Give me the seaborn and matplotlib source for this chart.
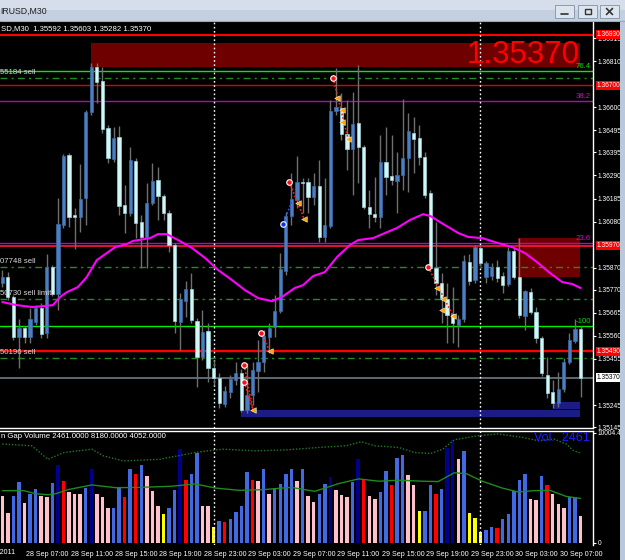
import matplotlib
matplotlib.use("Agg")
import matplotlib.pyplot as plt
import matplotlib.transforms as mtransforms
from matplotlib.patches import Rectangle
import numpy as np
import pandas as pd
import seaborn as sns

W, H = 625, 560

# EURUSD M30 candles, 28 Sep 05:00 -> 30 Sep 09:00 (index = bar number)
opens = [1.35800, 1.35828, 1.35737, 1.35555, 1.35596, 1.35555, 1.35623, 1.35687, 1.35573, 1.35873,
         1.35750, 1.36064, 1.36383, 1.36110, 1.36101, 1.36187, 1.36578, 1.36783, 1.36719, 1.36506,
         1.36365, 1.36465, 1.36155, 1.36119, 1.36355, 1.36078, 1.36010, 1.36164, 1.36269, 1.36196,
         1.36119, 1.35973, 1.35623, 1.35718, 1.35773, 1.35627, 1.35464, 1.35582, 1.35414, 1.35368,
         1.35250, 1.35304, 1.35359, 1.35391, 1.35222, 1.35291, 1.35400, 1.35441, 1.35555, 1.35600,
         1.35673, 1.35855, 1.36105, 1.36178, 1.36260, 1.36260, 1.36192, 1.36242, 1.36010, 1.36060,
         1.36583, 1.36597, 1.36478, 1.36410, 1.36528, 1.36419, 1.36146, 1.36114, 1.36101, 1.36351,
         1.36287, 1.36264, 1.36292, 1.36369, 1.36483, 1.36460, 1.36374, 1.36210, 1.35869, 1.35800,
         1.35728, 1.35659, 1.35609, 1.35637, 1.35896, 1.35814, 1.35960, 1.35828, 1.35832, 1.35873,
         1.35832, 1.35796, 1.35946, 1.35828, 1.35650, 1.35759, 1.35668, 1.35550, 1.35382, 1.35304,
         1.35254, 1.35318, 1.35441, 1.35536, 1.35592]
highs = [1.35860, 1.35850, 1.35746, 1.35637, 1.35605, 1.35687, 1.35700, 1.35709, 1.35932, 1.35882,
         1.36187, 1.36387, 1.36390, 1.36142, 1.36342, 1.36588, 1.36801, 1.36801, 1.36783, 1.36519,
         1.36510, 1.36515, 1.36246, 1.36419, 1.36369, 1.36110, 1.36255, 1.36346, 1.36328, 1.36205,
         1.36133, 1.35982, 1.35755, 1.35809, 1.35846, 1.35641, 1.35678, 1.35618, 1.35450, 1.35391,
         1.35332, 1.35382, 1.35441, 1.35409, 1.35436, 1.35441, 1.35541, 1.35587, 1.35618, 1.35746,
         1.35937, 1.36123, 1.36301, 1.36378, 1.36278, 1.36278, 1.36301, 1.36360, 1.36278, 1.36633,
         1.36779, 1.36665, 1.36633, 1.36669, 1.36792, 1.36428, 1.36224, 1.36283, 1.36474, 1.36510,
         1.36474, 1.36396, 1.36638, 1.36574, 1.36556, 1.36519, 1.36396, 1.36224, 1.36078, 1.35846,
         1.35800, 1.35782, 1.35655, 1.35928, 1.35932, 1.35973, 1.35969, 1.35900, 1.35891, 1.35905,
         1.35850, 1.35964, 1.35964, 1.36005, 1.35769, 1.35778, 1.35691, 1.35559, 1.35464, 1.35359,
         1.35395, 1.35459, 1.35573, 1.35637, 1.35603]
lows = [1.35782, 1.35723, 1.35541, 1.35414, 1.35527, 1.35527, 1.35609, 1.35550, 1.35550, 1.35741,
        1.35678, 1.36051, 1.36055, 1.35955, 1.36032, 1.36064, 1.36565, 1.36619, 1.36483, 1.36346,
        1.36351, 1.36110, 1.36028, 1.36105, 1.36005, 1.35869, 1.35869, 1.36155, 1.36087, 1.36087,
        1.35941, 1.35573, 1.35496, 1.35646, 1.35618, 1.35327, 1.35450, 1.35350, 1.35336, 1.35232,
        1.35236, 1.35277, 1.35336, 1.35213, 1.35209, 1.35245, 1.35304, 1.35395, 1.35482, 1.35555,
        1.35664, 1.35837, 1.36064, 1.36142, 1.36119, 1.36119, 1.36155, 1.35987, 1.35987, 1.36051,
        1.36565, 1.36451, 1.36315, 1.36201, 1.36255, 1.36137, 1.36051, 1.36078, 1.36051, 1.36201,
        1.36246, 1.36119, 1.36224, 1.36214, 1.36301, 1.36337, 1.36187, 1.35860, 1.35746, 1.35618,
        1.35527, 1.35527, 1.35509, 1.35623, 1.35791, 1.35800, 1.35878, 1.35800, 1.35814, 1.35805,
        1.35755, 1.35787, 1.35819, 1.35641, 1.35587, 1.35659, 1.35527, 1.35377, 1.35277, 1.35232,
        1.35236, 1.35304, 1.35432, 1.35527, 1.35282]
closes = [1.35828, 1.35737, 1.35555, 1.35596, 1.35555, 1.35637, 1.35687, 1.35568, 1.35873, 1.35750,
          1.36069, 1.36378, 1.36101, 1.36101, 1.36183, 1.36578, 1.36783, 1.36715, 1.36501, 1.36369,
          1.36460, 1.36151, 1.36119, 1.36360, 1.36073, 1.36010, 1.36164, 1.36264, 1.36196, 1.36119,
          1.35973, 1.35627, 1.35728, 1.35773, 1.35632, 1.35464, 1.35577, 1.35414, 1.35368, 1.35254,
          1.35309, 1.35364, 1.35391, 1.35222, 1.35291, 1.35405, 1.35441, 1.35559, 1.35596, 1.35673,
          1.35864, 1.36105, 1.36183, 1.36260, 1.36255, 1.36192, 1.36242, 1.36010, 1.36064, 1.36583,
          1.36601, 1.36478, 1.36410, 1.36524, 1.36419, 1.36146, 1.36114, 1.36101, 1.36351, 1.36283,
          1.36269, 1.36292, 1.36369, 1.36492, 1.36456, 1.36374, 1.36201, 1.35869, 1.35800, 1.35732,
          1.35655, 1.35618, 1.35637, 1.35900, 1.35809, 1.35964, 1.35891, 1.35891, 1.35873, 1.35823,
          1.35791, 1.35946, 1.35828, 1.35655, 1.35764, 1.35668, 1.35550, 1.35391, 1.35300, 1.35254,
          1.35318, 1.35441, 1.35541, 1.35591, 1.35370]

volumes = [4300, 2760, 4240, 5590, 3680, 4480, 4940, 4240, 4180, 5460,
           7090, 5680, 4640, 4480, 4420, 5030, 6750, 4480, 4180, 3190,
           3190, 5030, 4180, 6690, 6320, 7060, 6080, 4700, 3380, 2640,
           3160, 4790, 8530, 5770, 6320, 8170, 3380, 3380, 1410, 2030,
           1870, 2150, 2860, 3380, 6480, 5770, 5650, 6690, 4420, 5030,
           5400, 6290, 6690, 5650, 6690, 4300, 3750, 4420, 5400, 5960,
           4850, 4360, 4180, 5530, 7680, 5830, 4300, 4020, 4640, 6510,
           5250, 7740, 7980, 6140, 5310, 2920, 2950, 5250, 4480, 4940,
           8600, 9390, 7610, 8380, 2700, 2300, 980, 1170, 1470, 1350,
           2150, 2640, 4730, 5770, 6290, 4020, 3930, 6080, 5250, 4480,
           3530, 3190, 4140, 4180, 2461]
# p pink, b blue, n navy, r red, y yellow
vol_kind = list("ppbbpbbppb" "nrpppbnppp" "bbrbrbpppy" "bbnrbbppyb" "rbbbbrpbpb"
                "bbbpbppbbn" "pppbnrppbb" "rbbppybbrb" "nnpbyyybbr" "bbbbbppbrp" "ppbbp")

# moving average on price (bar, price)
ma_k = [0, 2.6, 5.5, 9.1, 10.4, 11.6, 13.6, 15.2, 17.0, 18.8, 20.3, 22.4, 23.5, 26.6, 28.0,
        29.6, 31.6, 34.1, 36.5, 38.8, 41.3, 43.6, 46.0, 48.5, 50.3, 52.6, 54.1, 55.9, 58.0, 60.2,
        62.5, 64.0, 66.7, 69.2, 71.0, 73.3, 75.7, 77.0, 78.7, 82.0, 83.8, 86.3, 89.2, 91.7, 94.0,
        96.4, 98.5, 100.7, 102.5, 104.0]
ma_price = [1.35714, 1.35700, 1.35691, 1.35700, 1.35737, 1.35759, 1.35782, 1.35828, 1.35905, 1.35937,
            1.35964, 1.35978, 1.35992, 1.36005, 1.36023, 1.36023, 1.35996, 1.35960, 1.35914, 1.35860,
            1.35814, 1.35769, 1.35732, 1.35718, 1.35737, 1.35778, 1.35791, 1.35832, 1.35850, 1.35919,
            1.35973, 1.35996, 1.36005, 1.36032, 1.36051, 1.36087, 1.36114, 1.36105, 1.36078, 1.36028,
            1.36010, 1.36005, 1.35982, 1.35964, 1.35937, 1.35891, 1.35846, 1.35805, 1.35796, 1.35778]

# volume indicator lines
band_k = [0, 5.3, 8.2, 11.1, 16.1, 18.2, 21.8, 28.3, 34.7, 36.9, 39.7, 45.5, 51.2, 56.9, 61.9,
          64.5, 67.0, 71.3, 74.1, 77.0, 79.2, 81.3, 85.6, 89.2, 93.5, 96.4, 99.2, 101.4, 102.8, 104.0]
band_vol = [9000, 8840, 7610, 8230, 8530, 7920, 7460, 7610, 8230, 8380, 8530, 8380, 8470, 8690, 8840,
            9210, 8840, 8690, 8230, 8140, 8530, 9390, 9760, 9920, 9610, 9300, 9460, 9000, 8380, 8180]
vma_k = [0, 3.9, 6.0, 8.2, 9.6, 11.8, 16.1, 20.4, 24.7, 30.4, 34.7, 38.3, 42.6, 46.9, 51.9, 56.2,
         60.5, 64.1, 67.7, 71.3, 75.6, 78.4, 81.3, 83.5, 86.3, 89.9, 92.8, 95.6, 98.5, 101.4, 104.0]
vma_vol = [4760, 4760, 4480, 4390, 4480, 4850, 5280, 5030, 5060, 5160, 5370, 5000, 4790, 4850, 5060, 4700,
           5400, 5830, 5620, 5710, 5620, 5590, 6390, 6300, 5620, 5000, 4640, 4760, 4790, 4240, 4052]

# trade history markers
entry_k = [59.5, 51.6, 46.5, 43.5, 43.5, 76.6]
entry_price = [1.36733, 1.36260, 1.35573, 1.35427, 1.35350, 1.35873]
exit_k = [60.2, 61.1, 61.1, 62.2, 53.2, 54.3, 48.1, 45.1, 78.2, 79.3, 79.1, 81.1]
exit_price = [1.36642, 1.36588, 1.36533, 1.36456, 1.36164, 1.36092, 1.35491, 1.35222,
              1.35778, 1.35728, 1.35678, 1.35650]
buy_k = [50.5]
buy_price = [1.36069]

# horizontal levels
red_levels = [1.36930, 1.36700, 1.35970, 1.35490]
lime_levels = [1.36766, 1.35605]
fibo_levels = [1.36628, 1.35982]
order_levels = [1.36733, 1.35873, 1.35728, 1.35459]
order_texts = ["55184 sell", "07748 sell", "50730 sell limit", "50196 sell"]
last_price = 1.35370

# chart objects: (k0, k1, p_low, p_high)
red_boxes = [(15.95, 103.9, 1.36785, 1.36894), (92.75, 103.9, 1.35828, 1.36005)]
blue_boxes = [(42.9, 103.9, 1.35191, 1.35223), (99.0, 103.9, 1.35227, 1.35259)]

price_ticks = [1.36915, 1.36810, 1.36600, 1.36495, 1.36395, 1.36290, 1.36185, 1.36080,
               1.35870, 1.35770, 1.35665, 1.35560, 1.35455, 1.35245, 1.35145]
time_k = [4, 12, 20, 28, 36, 44, 52, 60, 68, 76, 84, 92, 100]
time_labels = ["28 Sep 07:00", "28 Sep 11:00", "28 Sep 15:00", "28 Sep 19:00", "28 Sep 23:00",
               "29 Sep 03:00", "29 Sep 07:00", "29 Sep 11:00", "29 Sep 15:00", "29 Sep 19:00",
               "29 Sep 23:00", "30 Sep 03:00", "30 Sep 07:00"]
day_breaks = [38, 86]

sns.set_theme(style="dark", rc={"axes.facecolor": "black", "figure.facecolor": "black",
                                "axes.edgecolor": "white", "axes.grid": False})
plt.rcParams["font.family"] = ["Liberation Sans", "DejaVu Sans"]

FS = 5.6      # in-chart labels
FS_AX = 4.8   # right price scale
FS_T = 5.1    # time scale
kind_colors = {"p": "#FFC0CB", "b": "#4169E1", "n": "#00008B", "r": "#FF0000", "y": "#FFFF00"}


def px_rect(x0, y0, x1, y1):
    return [x0 / W, 1 - y1 / H, (x1 - x0) / W, (y1 - y0) / H]


fig = plt.figure(figsize=(W / 100, H / 100), dpi=100)
fig.patch.set_facecolor("black")

x_lo, x_hi = -0.414, 106.24

# ---- price panel
ax = fig.add_axes(px_rect(0, 22, 593, 428))
ax.set_facecolor("black")
ax.set_xlim(x_lo, x_hi)
ax.set_ylim(1.35141, 1.36988)
for s in ["left", "top"]:
    ax.spines[s].set_visible(False)
for s in ["right", "bottom"]:
    ax.spines[s].set_color("white")
    ax.spines[s].set_linewidth(1)
ax.set_xticks([])
ax.yaxis.tick_right()
ax.set_yticks(price_ticks)
ax.set_yticklabels([f"{p:.5f}" for p in price_ticks])
ax.tick_params(axis="y", colors="white", labelsize=FS_AX, length=2.5, width=0.8, pad=1.0)

for k0, k1, p0, p1 in red_boxes:
    ax.add_patch(Rectangle((k0, p0), k1 - k0, p1 - p0, color="#6E0000", lw=0, zorder=1))
for k0, k1, p0, p1 in blue_boxes:
    ax.add_patch(Rectangle((k0, p0), k1 - k0, p1 - p0, color="#1C1C86", lw=0, zorder=1))

ax.axhline(red_levels[0], color="#FF0000", lw=1.5, zorder=2)
ax.axhline(red_levels[1], color="#E00000", lw=1.0, zorder=2)
ax.axhline(red_levels[2], color="#FF1A3A", lw=1.2, zorder=2)
ax.axhline(red_levels[3], color="#FF0000", lw=1.7, zorder=2)
for p in lime_levels:
    ax.axhline(p, color="#00EE00", lw=1.0, zorder=2)
for p in fibo_levels:
    ax.axhline(p, color="#C000C0", lw=1.0, zorder=2)
for p, t in zip(order_levels, order_texts):
    ax.axhline(p, color="#1F8F1F", lw=1.0, ls=(0, (5, 3, 1.5, 3)), zorder=2)
    ax.text(x_lo + 0.05, p + 0.00008, t, fontsize=FS, color="#D8D8D8", ha="left", va="bottom", zorder=5)
ax.axhline(last_price, color="#65707C", lw=1.3, zorder=2)
for k in day_breaks:
    ax.axvline(k, color="white", lw=1.0, ls=(0, (1.2, 1.8)), zorder=2)

ax.text(105.9, lime_levels[0] + 0.00004, "76.4", fontsize=FS, color="#00DD00", ha="right", va="bottom", zorder=10)
ax.text(105.9, fibo_levels[0] + 0.00004, "38.2", fontsize=FS, color="#D000D0", ha="right", va="bottom", zorder=5)
ax.text(105.9, fibo_levels[1] + 0.00004, "23.6", fontsize=FS, color="#D000D0", ha="right", va="bottom", zorder=5)
ax.text(105.9, lime_levels[1] + 0.00004, "-100", fontsize=FS, color="#00DD00", ha="right", va="bottom", zorder=5)

# candles
df = pd.DataFrame({"open": opens, "high": highs, "low": lows, "close": closes})
df["k"] = np.arange(len(df))
up = df["close"] >= df["open"]
ax.vlines(df["k"], df["low"], df["high"], color="#6F6F6F", lw=1.0, zorder=3)
body_lo = df[["open", "close"]].min(axis=1)
body_h = (df["close"] - df["open"]).abs().clip(lower=0.000025)
ax.bar(df["k"][up], body_h[up], bottom=body_lo[up], width=0.58, color="#4C7FC0",
       edgecolor="#3A6AA8", lw=0.5, zorder=4)
ax.bar(df["k"][~up], body_h[~up], bottom=body_lo[~up], width=0.58, color="#D2F6F6",
       edgecolor="#9CCFD8", lw=0.5, zorder=4)

sns.lineplot(x=ma_k, y=ma_price, ax=ax, color="#FF00FF", lw=1.5, sort=False, estimator=None, zorder=6)

# trades
groups = [(0, [0, 1, 2, 3]), (1, [4, 5]), (2, [6]), (3, [7]), (4, [7]), (5, [8, 9, 10, 11])]
for e, xs in groups:
    j = xs[-1]
    ax.plot([entry_k[e], exit_k[j]], [entry_price[e], exit_price[j]], color="#FF2020",
            lw=1.2, ls=(0, (1, 1.2)), zorder=7)
ax.plot([buy_k[0], 52.2], [buy_price[0], 1.36180], color="#3050FF", lw=1.2, ls=(0, (1, 1.2)), zorder=7)
ax.scatter(entry_k, entry_price, s=16, color="#FF1010", edgecolor="white", lw=0.8, zorder=8)
ax.scatter(buy_k, buy_price, s=16, color="#1030FF", edgecolor="white", lw=0.8, zorder=8)
ax.scatter(exit_k, exit_price, s=16, marker="<", color="#FFA500", edgecolor="#FFF0C0", lw=0.4, zorder=8)

ax.text(103.9, (red_boxes[0][2] + red_boxes[0][3]) / 2 - 0.00001, "1.35370", fontsize=22.5,
        color="#FF0000", ha="right", va="center", zorder=9)

# right-axis price boxes
lab = mtransforms.blended_transform_factory(ax.transAxes, ax.transData)
off = mtransforms.ScaledTranslation(3.5 / 100, 0, fig.dpi_scale_trans)
for p in red_levels:
    ax.text(1.0, p, f"{p:.5f}", transform=lab + off, fontsize=FS_AX, color="white", ha="left",
            va="center", clip_on=False, zorder=10,
            bbox=dict(facecolor="#FF0000", edgecolor="none", pad=0.7))
ax.text(1.0, last_price, f"{last_price:.5f}", transform=lab + off, fontsize=FS_AX, color="black",
        ha="left", va="center", clip_on=False, zorder=10,
        bbox=dict(facecolor="white", edgecolor="none", pad=0.7))

# ---- volume panel
axv = fig.add_axes(px_rect(0, 431, 593, 545))
axv.set_facecolor("black")
axv.set_xlim(x_lo, x_hi)
axv.set_ylim(-182, 10186)
axv.spines["left"].set_visible(False)
axv.spines["bottom"].set_visible(False)
for s in ["right", "top"]:
    axv.spines[s].set_color("white")
    axv.spines[s].set_linewidth(1)
axv.bar(np.arange(len(volumes)), volumes, width=0.62, color=[kind_colors[c] for c in vol_kind],
        lw=0, zorder=2)
sns.lineplot(x=band_k, y=band_vol, ax=axv, color="#217A21", lw=1.0, ls=(0, (1, 1.3)),
             sort=False, estimator=None, zorder=3)
sns.lineplot(x=vma_k, y=vma_vol, ax=axv, color="#1F8A1F", lw=1.0, sort=False, estimator=None, zorder=3)
for k in day_breaks:
    axv.axvline(k, color="white", lw=1.0, ls=(0, (1.2, 1.8)), zorder=4)
axv.yaxis.tick_right()
axv.set_yticks([0, 10004.4])
axv.set_yticklabels(["0", "10004.4"])
axv.tick_params(axis="y", colors="white", labelsize=FS_AX, length=2.5, width=0.8, pad=1.0)
axv.set_xticks(time_k)
axv.set_xticklabels(time_labels, ha="left")
axv.tick_params(axis="x", colors="white", labelsize=FS_T, length=3, width=0.8, pad=1.5)
shift = mtransforms.ScaledTranslation(1.5 / 100, 0, fig.dpi_scale_trans)
for t in axv.get_xticklabels():
    t.set_transform(t.get_transform() + shift)
for a in (ax, axv):
    a.set_xlabel("")
    a.set_ylabel("")

# window frame and header texts on top
bg = fig.add_axes([0, 0, 1, 1], zorder=20)
bg.patch.set_visible(False)
bg.set_xlim(0, W)
bg.set_ylim(H, 0)
bg.axis("off")
bg.add_patch(Rectangle((0, 0), W, 10, color="#D5DEEA", lw=0))
bg.add_patch(Rectangle((0, 10), W, 11, color="#C4D0DF", lw=0))
bg.plot([0, W], [20.5, 20.5], color="#9AAABB", lw=0.8)
bg.add_patch(Rectangle((620, 20), 5, H - 20, color="#B9C8DA", lw=0))
bg.text(0, 11, "IRUSD,M30", fontsize=6.3, color="#202020", va="center", ha="left")
for bx in [555, 578, 600]:
    bg.add_patch(Rectangle((bx, 5), 19, 13, facecolor="#DCE4EE", edgecolor="#8C9BAE", lw=0.7))
bg.plot([561, 568], [14, 14], color="#333333", lw=1.2)
bg.add_patch(Rectangle((584.5, 9), 6, 5, facecolor="none", edgecolor="#333333", lw=1))
bg.plot([606.5, 612.5], [8.5, 14.5], color="#333333", lw=1.2)
bg.plot([606.5, 612.5], [14.5, 8.5], color="#333333", lw=1.2)
bg.text(1, 29, "SD,M30  1.35592 1.35603 1.35282 1.35370", fontsize=FS, color="white",
        va="center", ha="left")
bg.text(1, 437, "n Gap Volume 2461.0000 8180.0000 4052.0000", fontsize=FS, color="white",
        va="center", ha="left")
bg.text(590, 438, "Vol.  2461", fontsize=9, color="#1E1EFF", va="center", ha="right")
bg.text(15, 553, "28 Sep 2011", fontsize=FS_T, color="white", va="center", ha="right")

fig.savefig("out.png", dpi=100, facecolor="black")
